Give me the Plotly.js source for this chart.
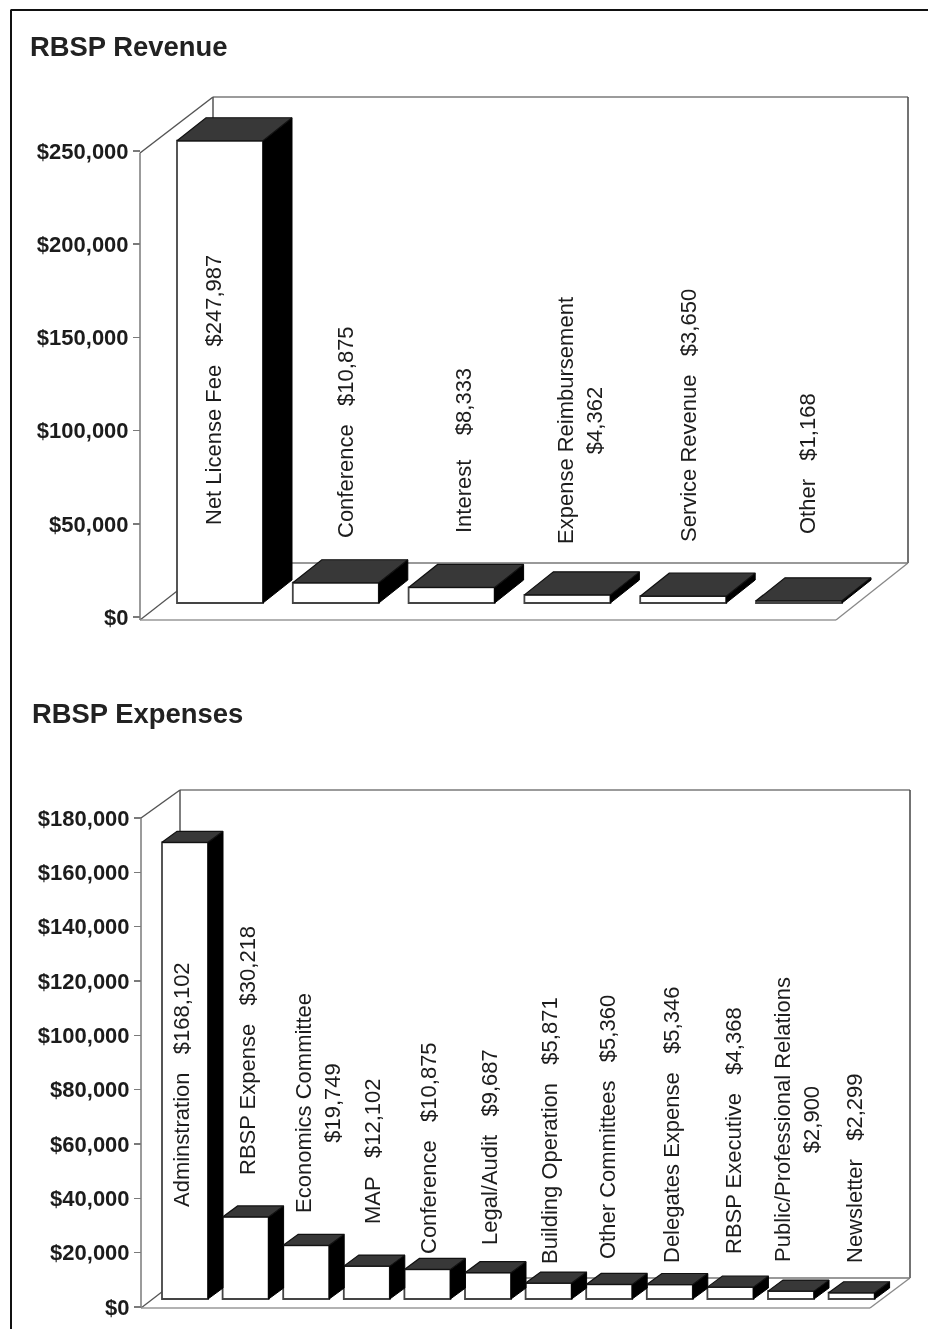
<!DOCTYPE html>
<html>
<head>
<meta charset="utf-8">
<script src="https://cdn.plot.ly/plotly-3.0.1.min.js"></script>
<style>html,body{margin:0;padding:0;background:#fff}#chart{width:928px;height:1329px;filter:blur(0.55px)}</style>
</head>
<body>
<div id="chart"></div>
<script>
// ---- data ----
const revenueCategories = ["Net License Fee", "Conference", "Interest", "Expense Reimbursement", "Service Revenue", "Other"];
const revenueValues = [247987, 10875, 8333, 4362, 3650, 1168];
const revenueTicks = [0, 50000, 100000, 150000, 200000, 250000];

const expenseCategories = ["Adminstration", "RBSP Expense", "Economics Committee", "MAP", "Conference", "Legal/Audit",
  "Building Operation", "Other Committees", "Delegates Expense", "RBSP Executive", "Public/Professional Relations", "Newsletter"];
const expenseValues = [168102, 30218, 19749, 12102, 10875, 9687, 5871, 5360, 5346, 4368, 2900, 2299];
const expenseTicks = [0, 20000, 40000, 60000, 80000, 100000, 120000, 140000, 160000, 180000];

// ---- page geometry (pixels of the photographed page) ----
const W = 928, H = 1329;
const FONT = '"Liberation Sans", Arial, sans-serif';
const INK = '#1c1c1c', WALL = '#7a7a7a';
const LABEL_SIZE = 22, TICK_SIZE = 22, TITLE_SIZE = 27.4;

const panels = [
  { title: "RBSP Revenue", titleX: 28, titleY: 46, cats: revenueCategories, vals: revenueValues, ticks: revenueTicks,
    xa: 'x', ya: 'y', x0: 220, step: 115.8, barW: 86, dx: 29, dy: 23, baseGap: 14,
    zeroPx: 617, refPx: 151, refVal: 250000, wallTop: 97, floorPx: 620,
    leftX: 140, leftTopY: 153, backX: 213, rightX: 908, backFloorY: 563, frontRightX: 836,
    labelsWrap: { 3: true },
    labelX: [213, 345, 463, 580, 688, 807],
    labelY: [390, 432, 451, 421, 416, 464],
    gap: ['\u00a0\u00a0\u00a0', '\u00a0\u00a0\u00a0', '\u00a0\u00a0\u00a0\u00a0', '', '\u00a0\u00a0\u00a0', '\u00a0\u00a0\u00a0'] },
  { title: "RBSP Expenses", titleX: 30, titleY: 713, cats: expenseCategories, vals: expenseValues, ticks: expenseTicks,
    xa: 'x2', ya: 'y2', x0: 185, step: 60.6, barW: 46, dx: 15, dy: 11, baseGap: 8,
    zeroPx: 1307, refPx: 818, refVal: 180000, wallTop: 790, floorPx: 1308,
    leftX: 141, leftTopY: 818, backX: 180, rightX: 910, backFloorY: 1278, frontRightX: 870,
    labelsWrap: { 2: true, 10: true },
    labelX: [181, 247, 318, 372, 428, 489, 549, 607, 671, 733, 797, 854],
    labelY: [1085, 1051, 1103, 1151, 1148, 1147, 1131, 1127, 1125, 1131, 1120, 1168],
    gap: ['\u00a0\u00a0\u00a0', '\u00a0\u00a0\u00a0', '', '\u00a0\u00a0\u00a0', '\u00a0\u00a0\u00a0', '\u00a0\u00a0\u00a0',
          '\u00a0\u00a0\u00a0', '\u00a0\u00a0\u00a0', '\u00a0\u00a0\u00a0', '\u00a0\u00a0\u00a0', '', '\u00a0\u00a0\u00a0'] }
];

const px = x => x / W;
const py = y => 1 - y / H;
const money = v => '$' + v.toLocaleString('en-US');

const traces = [], shapes = [], annotations = [];
const layout = {
  width: W, height: H, margin: { l: 0, r: 0, t: 0, b: 0 },
  paper_bgcolor: '#fff', plot_bgcolor: 'rgba(0,0,0,0)', showlegend: false, bargap: 0, hovermode: false,
  font: { family: FONT, color: INK }
};

const line = (x0, y0, x1, y1, color, width) => shapes.push({
  type: 'line', xref: 'paper', yref: 'paper', layer: 'below',
  x0: px(x0), y0: py(y0), x1: px(x1), y1: py(y1), line: { color: color, width: width }
});

panels.forEach(p => {
  const perPx = p.refVal / (p.zeroPx - p.refPx);
  const xPerPx = 1 / p.step;
  const base = p.baseGap * perPx;
  const depthY = p.dy * perPx, depthX = p.dx * xPerPx, half = p.barW * xPerPx / 2;
  const idx = p.cats.map((_, i) => i);

  const xName = p.xa === 'x' ? 'xaxis' : 'xaxis2';
  const yName = p.ya === 'y' ? 'yaxis' : 'yaxis2';
  layout[xName] = {
    domain: [0, 1], range: [(0 - p.x0) * xPerPx, (W - p.x0) * xPerPx], visible: false, fixedrange: true,
    anchor: p.ya
  };
  layout[yName] = {
    domain: [py(p.floorPx), py(p.wallTop)],
    range: [(p.zeroPx - p.floorPx) * perPx, (p.zeroPx - p.wallTop) * perPx],
    anchor: 'free', position: px(p.leftX), showline: false, showgrid: false, zeroline: false, fixedrange: true,
    tickmode: 'array', tickvals: p.ticks, ticktext: p.ticks.map(money),
    ticks: 'outside', ticklen: 7, tickwidth: 1.5, tickcolor: WALL,
    tickfont: { family: FONT, size: TICK_SIZE, color: INK, weight: 700 }
  };

  // Front faces
  traces.push({
    type: 'bar', xaxis: p.xa, yaxis: p.ya, x: idx, y: p.vals, base: p.vals.map(() => base),
    width: p.barW * xPerPx, marker: { color: '#fff', line: { color: '#444', width: 1.8 } }
  });

  // Side and top faces, built from each bar's value
  p.vals.forEach((v, i) => {
    const l = i - half, r = i + half, b = base, t = base + v;
    traces.push({
      type: 'scatter', mode: 'lines', xaxis: p.xa, yaxis: p.ya, fill: 'toself', fillcolor: '#000',
      line: { color: '#000', width: 1 },
      x: [r, r + depthX, r + depthX, r, r], y: [b, b + depthY, t + depthY, t, b]
    });
    traces.push({
      type: 'scatter', mode: 'lines', xaxis: p.xa, yaxis: p.ya, fill: 'toself', fillcolor: '#383838',
      line: { color: '#111', width: 1.2 },
      x: [l, l + depthX, r + depthX, r, l], y: [t, t + depthY, t + depthY, t, t]
    });
  });

  // 3D walls and floor
  line(p.backX, p.wallTop, p.rightX, p.wallTop, WALL, 1.5);
  line(p.rightX, p.wallTop, p.rightX, p.backFloorY, '#444', 1.5);
  line(p.backX, p.wallTop, p.backX, p.backFloorY, '#555', 1.5);
  line(p.leftX, p.leftTopY, p.backX, p.wallTop, '#555', 1.5);
  line(p.leftX, p.leftTopY, p.leftX, p.floorPx, WALL, 1.5);
  line(p.leftX, p.floorPx, p.backX, p.backFloorY, '#555', 1.3);
  line(p.leftX, p.floorPx, p.frontRightX, p.floorPx, '#999', 1.6);
  line(p.frontRightX, p.floorPx, p.rightX, p.backFloorY, '#888', 1.3);
  line(p.backX, p.backFloorY, p.rightX, p.backFloorY, '#777', 1.5);

  // Title
  annotations.push({
    xref: 'paper', yref: 'paper', x: px(p.titleX), y: py(p.titleY), xanchor: 'left', yanchor: 'middle', showarrow: false,
    text: '<b>' + p.title + '</b>', font: { family: FONT, size: TITLE_SIZE, color: '#222' }
  });

  // Rotated value labels
  p.cats.forEach((c, i) => {
    const txt = p.labelsWrap[i] ? c + '<br>' + money(p.vals[i]) : c + p.gap[i] + money(p.vals[i]);
    annotations.push({
      xref: 'paper', yref: 'paper', x: px(p.labelX[i]), y: py(p.labelY[i]), xanchor: 'center', yanchor: 'middle',
      showarrow: false, textangle: -90, text: txt, align: 'center',
      font: { family: FONT, size: LABEL_SIZE, color: INK }
    });
  });
});

// Page frame from the scan
shapes.push({ type: 'line', xref: 'paper', yref: 'paper', x0: px(10.5), x1: 1, y0: py(10), y1: py(10), line: { color: '#111', width: 2 } });
shapes.push({ type: 'line', xref: 'paper', yref: 'paper', x0: px(11), x1: px(11), y0: py(10), y1: 0, line: { color: '#111', width: 2 } });

layout.shapes = shapes;
layout.annotations = annotations;
Plotly.newPlot('chart', traces, layout, { displayModeBar: false, staticPlot: true });
</script>
</body>
</html>
